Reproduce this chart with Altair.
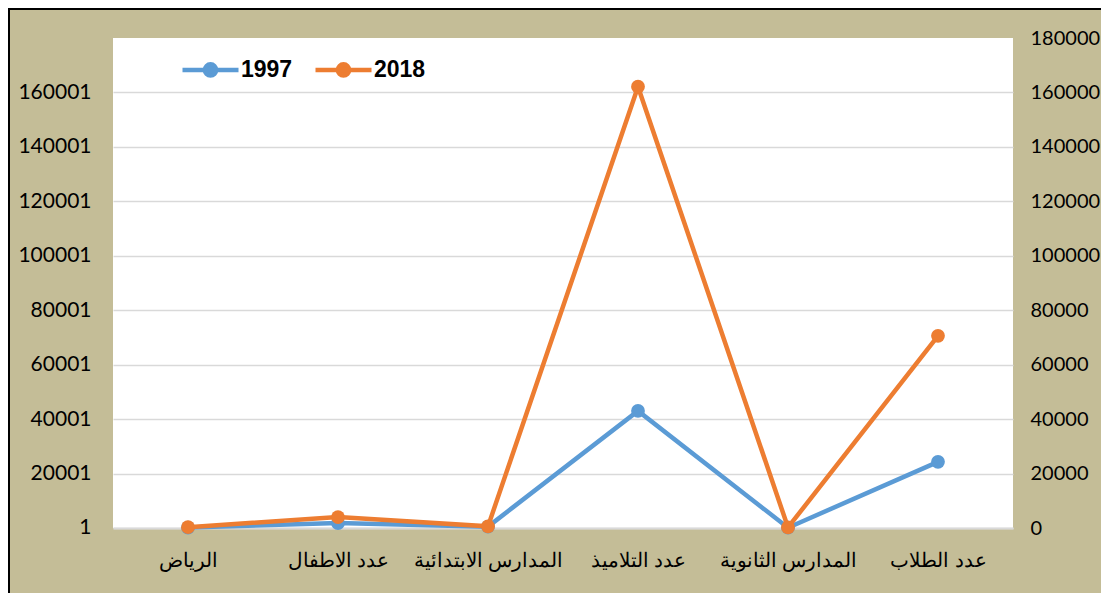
import altair as alt
import pandas as pd

categories = ["الرياض", "عدد الاطفال", "المدارس الابتدائية", "عدد التلاميذ", "المدارس الثانوية", "عدد الطلاب"]
values_1997 = [150, 1800, 500, 43000, 100, 24300]
values_2018 = [300, 4000, 600, 162100, 200, 70600]
series_names = ["1997", "2018"]
series_colors = ["#5B9BD5", "#ED7D31"]
left_ticks = [1, 20001, 40001, 60001, 80001, 100001, 120001, 140001, 160001]
right_ticks = [0, 20000, 40000, 60000, 80000, 100000, 120000, 140000, 160000, 180000]

rows = []
for s, vals in zip(series_names, [values_1997, values_2018]):
    for c, v in zip(categories, vals):
        rows.append({"cat": c, "series": s, "value": v})
df = pd.DataFrame(rows)

LEGEND_PATH = "M-1,0H1M-0.2,0A0.2,0.2,0,1,0,0.2,0A0.2,0.2,0,1,0,-0.2,0Z"

x_enc = alt.X("cat:N", sort=categories, title=None,
              scale=alt.Scale(type="point", padding=0.5),
              axis=alt.Axis(labelAngle=0, ticks=False, domainColor="#D9D9D9", domainWidth=2,
                            labelFont="Liberation Sans", labelFontSize=20, labelColor="#000000",
                            labelPadding=22, grid=False))
y_scale = alt.Scale(domain=[0, 180000], nice=False, zero=True)
color_enc = alt.Color("series:N", scale=alt.Scale(domain=series_names, range=series_colors),
                      legend=alt.Legend(title=None, orient="none", legendX=67, legendY=1,
                                        direction="horizontal", symbolType=LEGEND_PATH,
                                        symbolSize=3136, symbolStrokeWidth=4.5,
                                        labelFont="Liberation Sans", labelFontWeight="bold",
                                        labelFontSize=23, labelColor="#000000",
                                        labelOffset=0, columnPadding=13))

def layer_for(s):
    base = alt.Chart(df).transform_filter(alt.datum.series == s)
    y_enc = alt.Y("value:Q", scale=y_scale, title=None,
                  axis=alt.Axis(values=left_ticks, format="d", grid=True, gridColor="#D9D9D9",
                                gridWidth=1.5, domain=False, ticks=False, labelFont="Lato",
                                labelFontSize=21, labelColor="#000000", labelPadding=22))
    line = base.mark_line(strokeWidth=4.5).encode(x=x_enc, y=y_enc, color=color_enc)
    pts = base.mark_point(filled=True, size=190, opacity=1).encode(x=x_enc, y=y_enc, color=color_enc)
    return [line, pts]

left = alt.layer(*(layer_for("1997") + layer_for("2018")))

right = alt.Chart(df).mark_line(strokeOpacity=0).encode(
    x=x_enc,
    y=alt.Y("value:Q", scale=y_scale, title=None,
            axis=alt.Axis(orient="right", values=right_ticks, format="d", grid=False, domain=False,
                          ticks=False, labelFont="Lato", labelFontSize=20, labelColor="#000000",
                          labelPadding=17, labelAlign="left")),
)

border_df = pd.DataFrame({"k": [0]})
border_left = alt.Chart(border_df).mark_rule(color="#000000", strokeWidth=2).encode(
    x=alt.value(-104), y=alt.value(-30), y2=alt.value(620))
border_top = alt.Chart(border_df).mark_rule(color="#000000", strokeWidth=2).encode(
    x=alt.value(-105), x2=alt.value(1050), y=alt.value(-29))

chart = alt.layer(left, right, border_left, border_top).resolve_scale(y="independent").properties(
    width=900, height=490,
    autosize=alt.AutoSizeParams(type="none"),
    padding={"left": 105, "top": 30, "right": 88, "bottom": 65},
    background="#C4BD97",
).configure_view(fill="#FFFFFF", stroke=None)

chart.save("out.html", embed_options={"renderer": "svg", "actions": False})
